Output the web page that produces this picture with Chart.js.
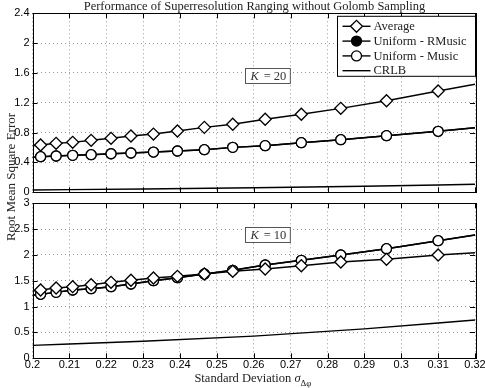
<!DOCTYPE html>
<html>
<head>
<meta charset="utf-8">
<script src="https://cdn.jsdelivr.net/npm/chart.js@4.4.0/dist/chart.umd.min.js"></script>
<style>
  body { margin: 0; background: #fff; }
  #wrap { position: relative; width: 485px; height: 388px; overflow: hidden; }
  canvas { position: absolute; left: 0; top: 0; }
  .txt { position: absolute; font-family: 'Liberation Serif', serif; font-size: 12.5px; line-height: 14px; color: #222; white-space: nowrap; text-align: center; }
  #title { left: 12px; top: -1px; width: 485px; }
  #ylab { left: -89px; top: 170px; width: 200px; transform: rotate(-90deg); font-size: 13px; }
  #xlab { left: 153px; top: 371px; width: 200px; }
  #xlab sub { font-size: 9px; line-height: 0; }
</style>
</head>
<body>
<div id="wrap">
  <canvas id="topChart" width="485" height="388"></canvas>
  <canvas id="bottomChart" width="485" height="388"></canvas>
  <div class="txt" id="title">Performance of Superresolution Ranging without Golomb Sampling</div>
  <div class="txt" id="ylab">Root Mean Square Error</div>
  <div class="txt" id="xlab">Standard Deviation <i>σ</i><sub>Δφ</sub></div>
</div>
<script>
// standard deviation of the phase error (first and last are the line ends, no marker)
const sigma = [0.2, 0.2022, 0.2064, 0.2109, 0.2159, 0.2213, 0.2267, 0.2328, 0.2393, 0.2466, 0.2543, 0.2631, 0.2729, 0.2836, 0.2960, 0.3100, 0.32];
const crlbSigma = [0.2, 0.23, 0.26, 0.29, 0.32];

// K = 20
const avg20 = [0.625, 0.634, 0.657, 0.670, 0.697, 0.724, 0.755, 0.781, 0.822, 0.871, 0.912, 0.979, 1.046, 1.126, 1.228, 1.358, 1.448];
const rmusic20 = [0.469, 0.477, 0.487, 0.496, 0.504, 0.517, 0.527, 0.540, 0.554, 0.571, 0.603, 0.625, 0.665, 0.705, 0.759, 0.818, 0.866];
const music20 = [0.469, 0.477, 0.487, 0.496, 0.504, 0.517, 0.527, 0.540, 0.554, 0.571, 0.603, 0.625, 0.665, 0.705, 0.759, 0.818, 0.866];
const crlb20 = [0.031, 0.045, 0.062, 0.082, 0.107];

// K = 10
const avg10 = [1.302, 1.322, 1.361, 1.386, 1.424, 1.471, 1.510, 1.554, 1.587, 1.632, 1.684, 1.728, 1.792, 1.864, 1.916, 2.000, 2.044];
const rmusic10 = [1.219, 1.239, 1.277, 1.322, 1.347, 1.386, 1.438, 1.502, 1.560, 1.632, 1.703, 1.806, 1.897, 1.999, 2.121, 2.276, 2.386];
const music10 = [1.219, 1.239, 1.277, 1.322, 1.347, 1.386, 1.438, 1.502, 1.560, 1.632, 1.703, 1.806, 1.897, 1.999, 2.121, 2.276, 2.386];
const crlb10 = [0.251, 0.33, 0.43, 0.57, 0.741];

const yTicks20 = { max: 2.4, step: 0.4 };
const yTicks10 = { max: 3, step: 0.5 };

const toXY = (xs, ys) => ys.map((v, i) => ({ x: xs[i], y: v }));
const markerRadius = r => sigma.map((s, i) => (i === 0 || i === sigma.length - 1) ? 0 : r);
const fmt = v => String(+(+v).toFixed(2));

function makeDatasets(avg, rmusic, music, crlb) {
    return [
        { label: 'Average', data: toXY(sigma, avg), order: 0, pointStyle: 'rectRot',
          pointRadius: markerRadius(6), backgroundColor: '#fff' },
        { label: 'Uniform - RMusic', data: toXY(sigma, rmusic), order: 2, pointStyle: 'circle',
          pointRadius: markerRadius(5), backgroundColor: '#000' },
        { label: 'Uniform - Music', data: toXY(sigma, music), order: 1, pointStyle: 'circle',
          pointRadius: markerRadius(5), backgroundColor: '#fff' },
        { label: 'CRLB', data: toXY(crlbSigma, crlb), order: 3, pointStyle: false,
          pointRadius: 0, backgroundColor: '#000', cubicInterpolationMode: 'monotone', tension: 0.4 }
    ].map(d => Object.assign({
        borderColor: '#000', borderWidth: 1.4, pointBorderColor: '#000',
        pointBackgroundColor: d.backgroundColor, pointBorderWidth: 1.3,
        pointHoverRadius: 0, tension: 0
    }, d));
}

// inward ticks, box, K label and legend
const framePlugin = {
    id: 'frame',
    afterDraw(chart, args, opts) {
        const { ctx, chartArea: a, scales: { x, y } } = chart;
        ctx.save();
        ctx.strokeStyle = '#000';
        ctx.lineWidth = 1;
        ctx.beginPath();
        x.ticks.forEach(t => {
            const px = Math.round(x.getPixelForValue(t.value)) + 0.5;
            ctx.moveTo(px, a.top); ctx.lineTo(px, a.top + 5);
            ctx.moveTo(px, a.bottom); ctx.lineTo(px, a.bottom - 5);
        });
        y.ticks.forEach(t => {
            const py = Math.round(y.getPixelForValue(t.value)) + 0.5;
            ctx.moveTo(a.left, py); ctx.lineTo(a.left + 5, py);
            ctx.moveTo(a.right, py); ctx.lineTo(a.right - 5, py);
        });
        ctx.stroke();
        ctx.strokeRect(Math.round(a.left) + 0.5, Math.round(a.top) + 0.5,
            Math.round(a.right - a.left), Math.round(a.bottom - a.top));

        // K annotation
        const cx = x.getPixelForValue(opts.kAt[0]);
        const cy = y.getPixelForValue(opts.kAt[1]);
        ctx.font = '12.5px "Liberation Serif"';
        const kW = ctx.measureText('K').width;
        const rest = ' = ' + opts.k;
        const rW = ctx.measureText(rest).width;
        const bw = kW + rW + 10, bh = 15;
        const bx = Math.round(cx - bw / 2) + 0.5, by = Math.round(cy - bh / 2) + 0.5;
        ctx.fillStyle = '#fff';
        ctx.fillRect(bx, by, bw, bh);
        ctx.strokeStyle = '#555';
        ctx.strokeRect(bx, by, bw, bh);
        ctx.fillStyle = '#333';
        ctx.textBaseline = 'middle';
        ctx.font = 'italic 12.5px "Liberation Serif"';
        ctx.fillText('K', bx + 5, by + bh / 2 + 0.5);
        ctx.font = '12.5px "Liberation Serif"';
        ctx.fillText(rest, bx + 5 + kW + 1, by + bh / 2 + 0.5);

        // legend
        if (opts.legend) {
            const sets = chart.data.datasets;
            const lx = 337.5, ly = a.top + 3, lw = Math.round(a.right) - 337, lh = 60;
            ctx.fillStyle = '#fff';
            ctx.fillRect(lx, ly, lw, lh);
            ctx.strokeStyle = '#000';
            ctx.strokeRect(lx, ly, lw, lh);
            sets.forEach((d, i) => {
                const ry = ly + 10 + i * 14.8;
                ctx.strokeStyle = '#000';
                ctx.lineWidth = 1.4;
                ctx.beginPath();
                ctx.moveTo(lx + 5, ry); ctx.lineTo(lx + 33, ry);
                ctx.stroke();
                if (d.pointStyle) {
                    ctx.fillStyle = d.backgroundColor;
                    ctx.lineWidth = 1.3;
                    Chart.helpers.drawPoint(ctx, {
                        pointStyle: d.pointStyle, rotation: 0,
                        radius: d.pointStyle === 'circle' ? 5 : 6, borderWidth: 1.3
                    }, lx + 19, ry);
                }
                ctx.fillStyle = '#222';
                ctx.font = '12.5px "Liberation Serif"';
                ctx.fillText(d.label, lx + 36, ry + 0.5);
            });
        }
        ctx.restore();
    }
};

function makeChart(id, datasets, yt, showX, top, bottom, extra) {
    return new Chart(document.getElementById(id), {
        type: 'line',
        data: { datasets: datasets },
        options: {
            responsive: false,
            animation: false,
            devicePixelRatio: 1,
            layout: { padding: { top: top, bottom: bottom, left: 0, right: 10 } },
            plugins: { legend: { display: false }, tooltip: { enabled: false }, frame: extra },
            scales: {
                x: {
                    type: 'linear', min: 0.2, max: 0.32,
                    grid: { color: '#999', drawTicks: false },
                    border: { display: false, dash: [1, 3] },
                    ticks: {
                        display: showX, stepSize: 0.01, autoSkip: false, maxRotation: 0,
                        padding: 0, color: '#000', font: { family: 'Liberation Sans', size: 11 },
                        callback: fmt
                    },
                    afterFit: s => { s.height = showX ? 20 : 0; s.paddingLeft = 0; s.paddingRight = 0; }
                },
                y: {
                    min: 0, max: yt.max,
                    grid: { color: '#999', drawTicks: false },
                    border: { display: false, dash: [1, 3] },
                    ticks: {
                        stepSize: yt.step, padding: 3, color: '#000',
                        font: { family: 'Liberation Sans', size: 11 }, callback: fmt
                    },
                    afterFit: s => { s.width = 32.5; s.paddingTop = 0; s.paddingBottom = 0; }
                }
            }
        },
        plugins: [framePlugin]
    });
}

makeChart('topChart', makeDatasets(avg20, rmusic20, music20, crlb20), yTicks20, false,
    13.3, 388 - 192.3, { k: 20, kAt: [0.2636, 1.572], legend: true });
makeChart('bottomChart', makeDatasets(avg10, rmusic10, music10, crlb10), yTicks10, true,
    203.3, 388 - 358.3 - 20, { k: 10, kAt: [0.2636, 2.392], legend: false });
</script>
</body>
</html>
